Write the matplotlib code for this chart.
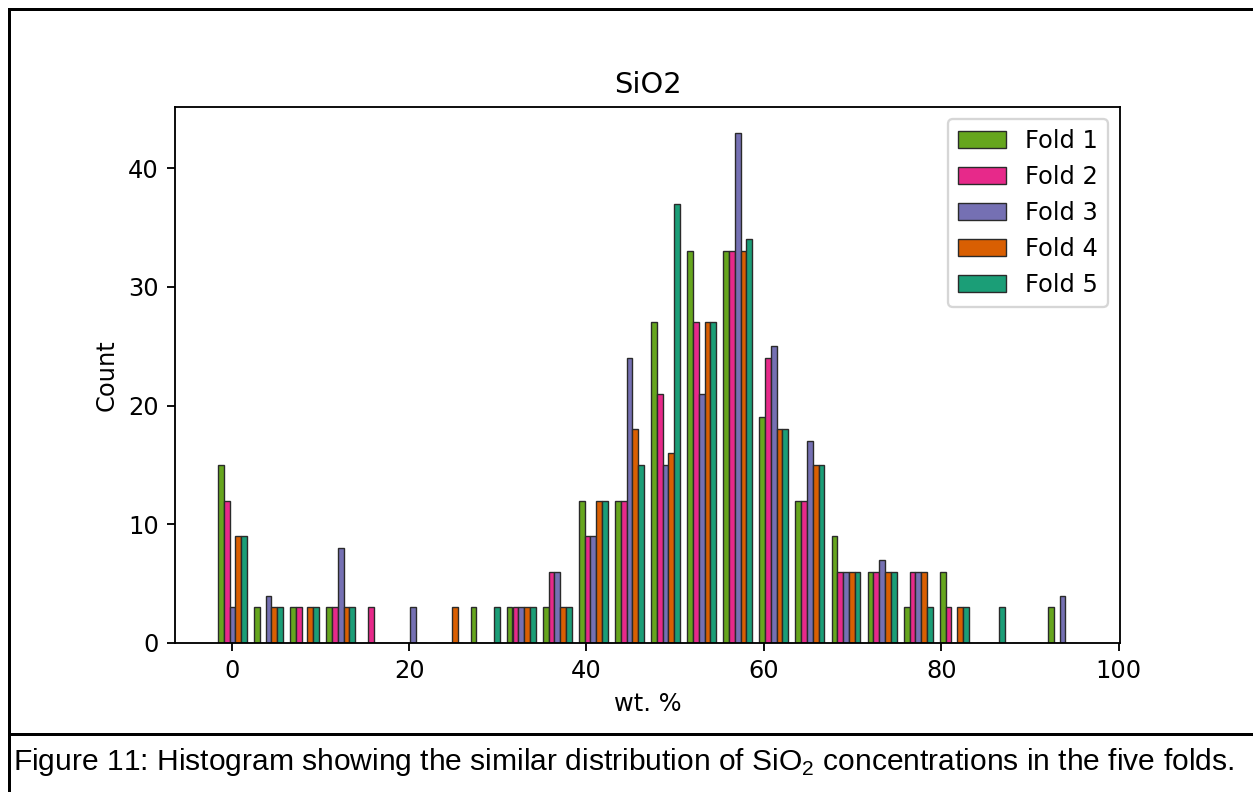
"""
SiO2 histogram per fold, with the figure caption underneath (document-style frame).
"""

import matplotlib

matplotlib.use("Agg")
import matplotlib.pyplot as plt
import numpy as np
from matplotlib.lines import Line2D

# bin layout of the original histogram (24 equal bins)
BIN_LO = -1.96
BIN_HI = 95.72
N_BINS = 24

FOLD_LABELS = ["Fold 1", "Fold 2", "Fold 3", "Fold 4", "Fold 5"]
FOLD_COLORS = ["#66a61e", "#e7298a", "#7570b3", "#d95f02", "#1b9e77"]

# counts per bin, one list per fold
fold1 = [15, 3, 3, 3, 0, 0, 0, 3, 3, 3, 12, 12, 27, 33, 33, 19, 12, 9, 6, 3, 6, 0, 0, 3]
fold2 = [12, 0, 3, 3, 3, 0, 0, 0, 3, 6, 9, 12, 21, 27, 33, 24, 12, 6, 6, 6, 3, 0, 0, 0]
fold3 = [3, 4, 0, 8, 0, 3, 0, 0, 3, 6, 9, 24, 15, 21, 43, 25, 17, 6, 7, 6, 0, 0, 0, 4]
fold4 = [9, 3, 3, 3, 0, 0, 3, 0, 3, 3, 12, 18, 16, 27, 33, 18, 15, 6, 6, 6, 3, 0, 0, 0]
fold5 = [9, 3, 3, 3, 0, 0, 0, 3, 3, 3, 12, 15, 37, 27, 34, 18, 15, 6, 6, 3, 3, 3, 0, 0]

TITLE = "SiO2"
X_LABEL = "wt. %"
Y_LABEL = "Count"
CAPTION = ("Figure 11: Histogram showing the similar distribution of "
           "SiO$_\\mathregular{2}$ concentrations in the five folds.")

DPI = 166
W_PX, H_PX = 1253, 792


def main():
    plt.rcParams["font.size"] = 10.45

    fig = plt.figure(figsize=(W_PX / DPI, H_PX / DPI), dpi=DPI)
    fig.patch.set_facecolor("white")
    ax = fig.add_axes([175 / W_PX, 1 - 643 / H_PX, (1120 - 175) / W_PX, (643 - 107) / H_PX])

    edges = np.linspace(BIN_LO, BIN_HI, N_BINS + 1)
    centers = 0.5 * (edges[:-1] + edges[1:])
    counts = [fold1, fold2, fold3, fold4, fold5]

    ax.hist(
        [centers] * len(counts),
        bins=edges,
        weights=counts,
        color=FOLD_COLORS,
        label=FOLD_LABELS,
        edgecolor="#2a2a2a",
        linewidth=0.6,
    )
    ax.set_title(TITLE)
    ax.set_xlabel(X_LABEL)
    ax.set_ylabel(Y_LABEL)
    ax.set_xticks([0, 20, 40, 60, 80, 100])
    ax.legend(loc="upper right")

    # document frame: left edge, top edge, caption divider
    lw = 3 * 72 / DPI
    left_x = 8.5 / W_PX
    top_y = 1 - 8.5 / H_PX
    div_y = 1 - 733.5 / H_PX
    fig.add_artist(Line2D([left_x, left_x], [0, top_y], color="black", lw=lw,
                          transform=fig.transFigure, solid_capstyle="projecting"))
    fig.add_artist(Line2D([left_x, 1.01], [top_y, top_y], color="black", lw=lw,
                          transform=fig.transFigure, solid_capstyle="projecting"))
    fig.add_artist(Line2D([left_x, 1.01], [div_y, div_y], color="black", lw=lw,
                          transform=fig.transFigure))

    fig.text(13 / W_PX, 1 - 762 / H_PX, CAPTION, family="Liberation Sans",
             fontsize=13.0, ha="left", va="center", color="black")

    fig.savefig("out.png", dpi=DPI)
    plt.close(fig)


if __name__ == "__main__":
    main()
